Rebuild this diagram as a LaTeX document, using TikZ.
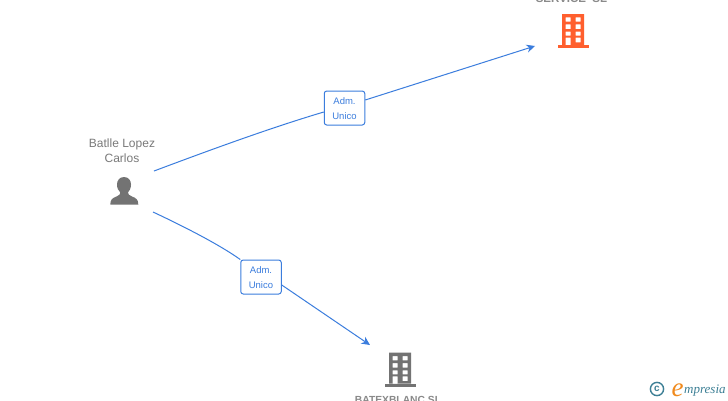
\documentclass[tikz,border=0pt]{standalone}
\usepackage{fontspec}
\setmainfont{Liberation Sans}
\newfontfamily\logofont{Liberation Serif}
\usetikzlibrary{arrows.meta}
\definecolor{linkblue}{HTML}{3B7DDD}
\definecolor{namegrey}{HTML}{7A7A7A}
\definecolor{boldgrey}{HTML}{8A8A8A}
\definecolor{iconorange}{HTML}{FF5F2E}
\definecolor{icongrey}{HTML}{737373}
\definecolor{logoteal}{HTML}{3C7F95}
\definecolor{logoorange}{HTML}{F08A1D}
\tikzset{
  linkline/.style={draw=linkblue,line width=1pt},
  linkarrow/.style={linkline,-{Stealth[length=8.5pt,width=8pt]}},
  rolebox/.style={draw=linkblue,line width=1pt,rounded corners=2.5pt,fill=white,
    minimum width=40.5pt,minimum height=34pt,inner sep=0pt,text=linkblue,
    font=\fontsize{9.5}{15}\selectfont,align=center},
  entityname/.style={text=boldgrey,inner sep=0pt},
  personname/.style={text=namegrey,font=\fontsize{12}{15}\selectfont,align=center,inner sep=0pt},
  pics/office/.style={code={
    \fill[#1,even odd rule]
      (4,0) rectangle (26,31)
      (7.7,3.3) rectangle (12.7,7.7) (17.7,3.3) rectangle (22.7,7.7)
      (7.7,10.3) rectangle (12.7,15) (17.7,10.3) rectangle (22.7,15)
      (7.7,17.7) rectangle (12.7,21.7) (17.7,17.7) rectangle (22.7,21.7)
      (7.7,23.7) rectangle (12.7,31) (17.7,23.7) rectangle (22.7,28.3);
    \fill[#1] (0,31) rectangle (31,34);
  }}
}
\begin{document}
\begin{tikzpicture}[x=1pt,y=-1pt]
\useasboundingbox (0,0) rectangle (728,400);
\clip (0,0) rectangle (728,400);
\fill[white] (0,0) rectangle (728,400);

% connector ends
\coordinate (pa) at (154,171);
\coordinate (pb) at (153,212);
\coordinate (ta) at (535,46);
\coordinate (tb) at (370,345);

% role boxes
\node[rolebox] (r1) at (344.5,108) {\rule{0pt}{9pt}Adm.\\Unico};
\node[rolebox] (r2) at (261,277) {\rule{0pt}{9pt}Adm.\\Unico};

% connectors
\draw[linkline] (pa) .. controls (210,150) and (270,128) .. (r1.west |- 0,112);
\draw[linkarrow] (r1.east |- 0,100) -- (ta);
\draw[linkline] (pb) .. controls (185,227) and (220,245) .. (r2.north west);
\draw[linkarrow] (r2.east |- 0,285) -- (tb);

% texts
\node[personname] (pn) at (122,150.5) {Batlle Lopez\\Carlos};
\node[entityname,font=\bfseries\fontsize{11.5}{13}\selectfont] (e1) at (571.5,-1) {SERVICE\ \ SL};
\node[entityname,font=\bfseries\fontsize{10.3}{13}\selectfont] (e2) at (398,399.5) {BATEXBLANC SL};

% person icon
\fill[icongrey] (124,177) .. controls (128.5,177) and (131,180.5) .. (131,184.5)
  .. controls (131,188) and (129.5,191) .. (128,192.5)
  .. controls (128,194.5) and (129,195) .. (132,196.5)
  .. controls (136,198) and (138.3,199.5) .. (138.3,204.5)
  -- (110.3,204.5)
  .. controls (110.3,199.5) and (112.5,198) .. (116.5,196.5)
  .. controls (119.5,195) and (120.3,194.5) .. (120.3,192.5)
  .. controls (118.5,191) and (117,188) .. (117,184.5)
  .. controls (117,180.5) and (119.5,177) .. (124,177) -- cycle;

% building icons
\pic at (558,14) {office=iconorange};
\pic at (385,352.7) {office=icongrey};

% logo
\draw[logoteal,line width=1.4pt] (657,389) circle (6.6);
\node[text=logoteal,font=\bfseries\fontsize{10}{10}\selectfont,inner sep=0pt] (lc) at (657,388.5) {c};
\node[text=logoorange,font=\logofont\itshape\fontsize{27}{27}\selectfont,inner sep=0pt,anchor=base] (le) at (677.5,396) {e};
\node[text=logoteal,font=\logofont\itshape\fontsize{13}{14}\selectfont,inner sep=0pt,anchor=base west] (lm) at (684,393.5) {mpresia};
\end{tikzpicture}
\end{document}
